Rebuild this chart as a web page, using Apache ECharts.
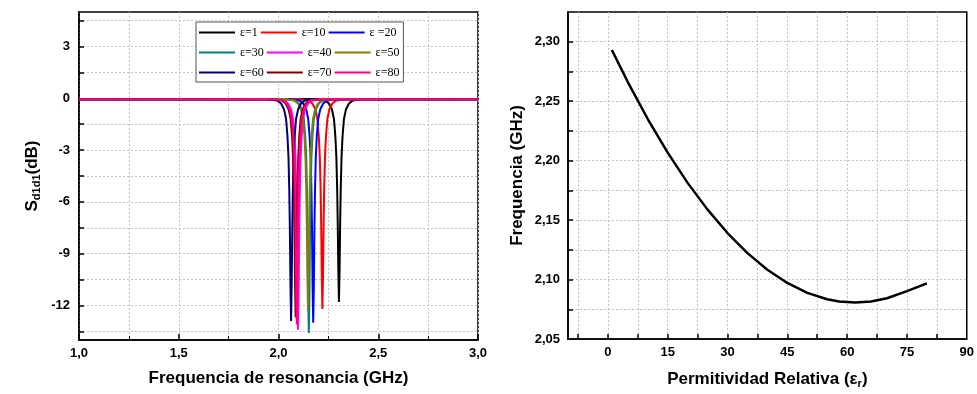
<!DOCTYPE html>
<html>
<head>
<meta charset="utf-8">
<script src="https://cdn.jsdelivr.net/npm/echarts@6/dist/echarts.min.js"></script>
<style>
  html, body { margin: 0; padding: 0; background: #fff; }
  #chart { width: 977px; height: 394px; }
</style>
</head>
<body>
<div id="chart"></div>
<script>
// ---- data ----
const legendNames = ['ε=1', 'ε=10', 'ε =20', 'ε=30', 'ε=40', 'ε=50', 'ε=60', 'ε=70', 'ε=80']
const curveColors = ['#000000', '#ff0000', '#0000ff', '#008080', '#ff00ff', '#808000', '#000080', '#800000', '#ff0080']

// S_d1d1 (dB) vs frequency (GHz), one array per permittivity
const sE1 = [[1.000,-0.06],[2.183,-0.04],[2.233,-0.12],[2.253,-0.30],[2.268,-0.65],[2.278,-1.2],[2.285,-2.2],[2.290,-3.4],[2.294,-5.2],[2.297,-7.3],[2.300,-10.0],[2.303,-11.8],[2.306,-10.0],[2.309,-7.3],[2.312,-5.2],[2.316,-3.4],[2.321,-2.2],[2.328,-1.2],[2.338,-0.65],[2.353,-0.30],[2.373,-0.12],[2.423,-0.04],[3.000,-0.06]]
const sE10 = [[1.000,-0.06],[2.100,-0.04],[2.150,-0.12],[2.170,-0.30],[2.185,-0.65],[2.195,-1.2],[2.202,-2.2],[2.207,-3.4],[2.211,-5.2],[2.214,-7.4],[2.217,-10.3],[2.220,-12.2],[2.223,-10.3],[2.226,-7.4],[2.229,-5.2],[2.233,-3.4],[2.238,-2.2],[2.245,-1.2],[2.255,-0.65],[2.270,-0.30],[2.290,-0.12],[2.340,-0.04],[3.000,-0.06]]
const sE20 = [[1.000,-0.06],[2.054,-0.04],[2.104,-0.12],[2.124,-0.30],[2.139,-0.65],[2.149,-1.2],[2.156,-2.2],[2.161,-3.4],[2.165,-5.3],[2.168,-7.6],[2.171,-11.0],[2.174,-13.0],[2.177,-11.0],[2.180,-7.6],[2.183,-5.3],[2.187,-3.4],[2.192,-2.2],[2.199,-1.2],[2.209,-0.65],[2.224,-0.30],[2.244,-0.12],[2.294,-0.04],[3.000,-0.06]]
const sE30 = [[1.000,-0.06],[2.032,-0.04],[2.082,-0.12],[2.102,-0.30],[2.117,-0.65],[2.127,-1.2],[2.134,-2.2],[2.139,-3.4],[2.143,-5.4],[2.146,-7.8],[2.149,-11.5],[2.152,-13.6],[2.155,-11.5],[2.158,-7.8],[2.161,-5.4],[2.165,-3.4],[2.170,-2.2],[2.177,-1.2],[2.187,-0.65],[2.202,-0.30],[2.222,-0.12],[2.272,-0.04],[3.000,-0.06]]
const sE40 = [[1.000,-0.06],[1.978,-0.04],[2.028,-0.12],[2.048,-0.30],[2.063,-0.65],[2.073,-1.2],[2.080,-2.2],[2.085,-3.4],[2.089,-5.4],[2.092,-7.7],[2.095,-11.3],[2.098,-13.4],[2.101,-11.3],[2.104,-7.7],[2.107,-5.4],[2.111,-3.4],[2.116,-2.2],[2.123,-1.2],[2.133,-0.65],[2.148,-0.30],[2.168,-0.12],[2.218,-0.04],[3.000,-0.06]]
const sE50 = [[1.000,-0.06],[2.028,-0.04],[2.078,-0.12],[2.098,-0.30],[2.113,-0.65],[2.123,-1.2],[2.130,-2.2],[2.135,-3.4],[2.139,-5.2],[2.142,-7.4],[2.145,-10.4],[2.148,-12.3],[2.151,-10.4],[2.154,-7.4],[2.157,-5.2],[2.161,-3.4],[2.166,-2.2],[2.173,-1.2],[2.183,-0.65],[2.198,-0.30],[2.218,-0.12],[2.268,-0.04],[3.000,-0.06]]
const sE60 = [[1.000,-0.06],[1.943,-0.04],[1.993,-0.12],[2.013,-0.30],[2.028,-0.65],[2.038,-1.2],[2.045,-2.2],[2.050,-3.4],[2.054,-5.3],[2.057,-7.6],[2.060,-10.9],[2.063,-12.9],[2.066,-10.9],[2.069,-7.6],[2.072,-5.3],[2.076,-3.4],[2.081,-2.2],[2.088,-1.2],[2.098,-0.65],[2.113,-0.30],[2.133,-0.12],[2.183,-0.04],[3.000,-0.06]]
const sE70 = [[1.000,-0.06],[1.966,-0.04],[2.016,-0.12],[2.036,-0.30],[2.051,-0.65],[2.061,-1.2],[2.068,-2.2],[2.073,-3.4],[2.077,-5.3],[2.080,-7.5],[2.083,-10.8],[2.086,-12.7],[2.089,-10.8],[2.092,-7.5],[2.095,-5.3],[2.099,-3.4],[2.104,-2.2],[2.111,-1.2],[2.121,-0.65],[2.136,-0.30],[2.156,-0.12],[2.206,-0.04],[3.000,-0.06]]
const sE80 = [[1.000,-0.06],[1.972,-0.04],[2.022,-0.12],[2.042,-0.30],[2.057,-0.65],[2.067,-1.2],[2.074,-2.2],[2.079,-3.4],[2.083,-5.3],[2.086,-7.6],[2.089,-11.1],[2.092,-13.1],[2.095,-11.1],[2.098,-7.6],[2.101,-5.3],[2.105,-3.4],[2.110,-2.2],[2.117,-1.2],[2.127,-0.65],[2.142,-0.30],[2.162,-0.12],[2.212,-0.04],[3.000,-0.06]]
const curves = [sE1, sE10, sE20, sE30, sE40, sE50, sE60, sE70, sE80]

// resonance frequency vs relative permittivity
const permittivity = [1, 5, 10, 15, 20, 25, 30, 35, 40, 45, 50, 55, 58, 62, 66, 70, 75, 80]
const resonanceGHz = [2.2930, 2.2661, 2.2350, 2.2067, 2.1813, 2.1588, 2.1391, 2.1222, 2.1082, 2.0971, 2.0888, 2.0834, 2.0815, 2.0806, 2.0815, 2.0843, 2.0903, 2.0968]

// tick labels
const leftYLabels = [-12, -9, -6, -3, 0, 3]
const leftYTicks = [-13.5, -12, -10.5, -9, -7.5, -6, -4.5, -3, -1.5, 0, 1.5, 3, 4.5]
const rightXLabels = [0, 15, 30, 45, 60, 75, 90]
const rightXTicks = [-7.5, 0, 7.5, 15, 22.5, 30, 37.5, 45, 52.5, 60, 67.5, 75, 82.5]
const rightYLabels = [2.05, 2.10, 2.15, 2.20, 2.25, 2.30]
const rightYTicks = [2.075, 2.10, 2.125, 2.15, 2.175, 2.20, 2.225, 2.25, 2.275, 2.30]

const chart = echarts.init(document.getElementById('chart'))

const SANS = 'Liberation Sans, Arial, sans-serif'
const gridLine = { show: true, lineStyle: { color: '#c4c4c4', type: [2, 2], width: 1 } }
const axisLine = { show: true, onZero: false, lineStyle: { color: '#000', width: 1.5 } }
const tickLabel = { color: '#000', fontFamily: SANS, fontWeight: 'bold', fontSize: 13 }
const nameStyle = { color: '#000', fontFamily: SANS, fontWeight: 'bold', fontSize: 17 }
const nameRich = {
  t: { fontFamily: SANS, fontWeight: 'bold', fontSize: 17, color: '#000' },
  sub: { fontFamily: SANS, fontWeight: 'bold', fontSize: 11, color: '#000', padding: [9, 0, 0, 0] }
}
const comma = (v, d) => v.toFixed(d).replace('.', ',')

const series = curves.map((data, i) => ({
  name: legendNames[i],
  type: 'line',
  xAxisIndex: 0,
  yAxisIndex: 0,
  data: data,
  showSymbol: false,
  lineStyle: { color: curveColors[i], width: 2 },
  itemStyle: { color: curveColors[i] }
}))
series.push({
  name: 'freq',
  type: 'line',
  xAxisIndex: 1,
  yAxisIndex: 1,
  data: permittivity.map((e, i) => [e, resonanceGHz[i]]),
  showSymbol: false,
  lineStyle: { color: '#000', width: 2.5, join: 'round' }
})

chart.setOption({
  animation: false,
  backgroundColor: '#fff',
  grid: [
    { left: 79, top: 12, width: 399, height: 328, show: true, borderColor: '#000', borderWidth: 1.5 },
    { left: 568, top: 12, width: 401, height: 328, show: true, borderColor: '#000', borderWidth: 1.5 }
  ],
  legend: {
    data: legendNames,
    left: 196,
    top: 22,
    width: 205,
    padding: [2, 4, 1, 3],
    itemGap: 3,
    itemWidth: 36,
    itemHeight: 2,
    icon: 'rect',
    borderColor: '#555',
    borderWidth: 1,
    backgroundColor: '#fff',
    textStyle: { fontFamily: 'Liberation Serif, Times New Roman, serif', fontSize: 12, color: '#000', lineHeight: 17 }
  },
  xAxis: [
    {
      gridIndex: 0, type: 'value', min: 1, max: 3, interval: 0.5,
      name: 'Frequencia de resonancia (GHz)', nameLocation: 'middle', nameGap: 30, nameTextStyle: nameStyle,
      axisLine: axisLine,
      axisTick: { inside: true, length: 6, lineStyle: { color: '#000', width: 1.5 } },
      minorTick: { show: true, splitNumber: 2, length: 4, lineStyle: { color: '#000', width: 1 } },
      splitLine: gridLine,
      minorSplitLine: gridLine,
      axisLabel: Object.assign({ margin: 7, formatter: v => comma(v, 1) }, tickLabel)
    },
    {
      gridIndex: 1, type: 'value', min: -10, max: 90,
      name: '{t|Permitividad Relativa (ε}{sub|r}{t|)}', nameLocation: 'middle', nameGap: 30,
      nameTextStyle: Object.assign({ rich: nameRich }, nameStyle),
      axisLine: axisLine,
      axisTick: { inside: true, length: 5, customValues: rightXTicks, lineStyle: { color: '#000', width: 1.5 } },
      splitLine: gridLine,
      axisLabel: Object.assign({ margin: 7, customValues: rightXLabels, formatter: v => String(v) }, tickLabel)
    }
  ],
  yAxis: [
    {
      gridIndex: 0, type: 'value', min: -14, max: 5,
      name: '{t|S}{sub|d1d1}{t|(dB)}', nameLocation: 'middle', nameGap: 37, nameRotate: 90,
      nameTextStyle: Object.assign({ rich: nameRich }, nameStyle),
      axisLine: axisLine,
      axisTick: { inside: true, length: 5, customValues: leftYTicks, lineStyle: { color: '#000', width: 1.5 } },
      splitLine: gridLine,
      axisLabel: Object.assign({ margin: 9, customValues: leftYLabels, formatter: v => String(v) }, tickLabel)
    },
    {
      gridIndex: 1, type: 'value', min: 2.05, max: 2.325,
      name: 'Frequencia (GHz)', nameLocation: 'middle', nameGap: 42, nameRotate: 90, nameTextStyle: nameStyle,
      axisLine: axisLine,
      axisTick: { inside: true, length: 5, customValues: rightYTicks, lineStyle: { color: '#000', width: 1.5 } },
      splitLine: gridLine,
      axisLabel: Object.assign({ margin: 8, customValues: rightYLabels, formatter: v => comma(v, 2) }, tickLabel)
    }
  ],
  series: series
})
</script>
</body>
</html>
